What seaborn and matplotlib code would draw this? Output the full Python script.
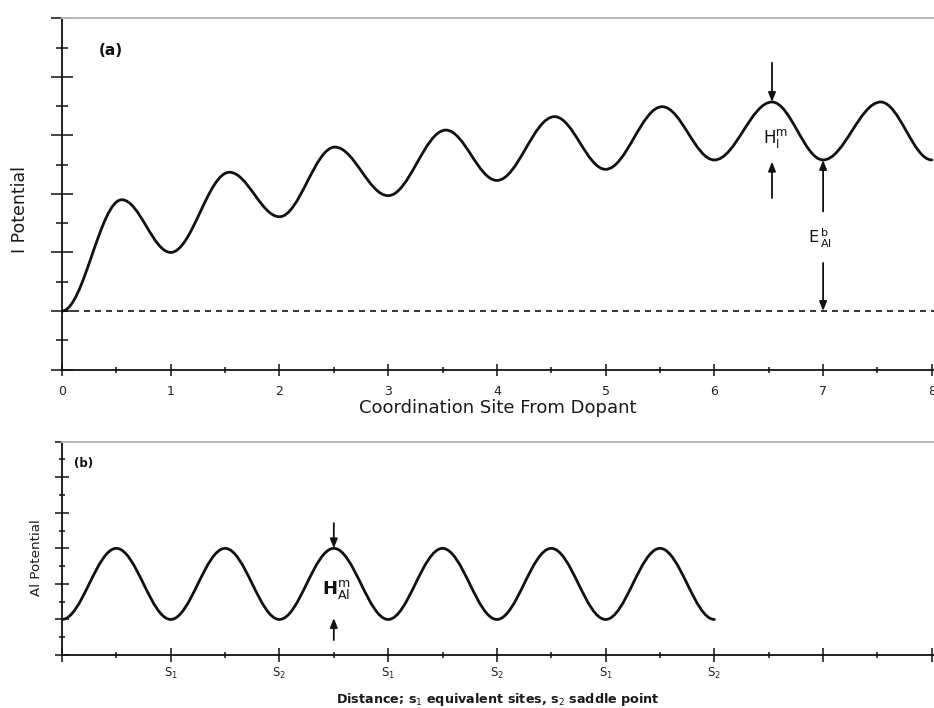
import matplotlib
matplotlib.use("Agg")
import matplotlib.pyplot as plt
from matplotlib.path import Path
from matplotlib.patches import PathPatch
from matplotlib.ticker import MultipleLocator, FixedLocator, NullFormatter
import seaborn as sns

# ---------------- data ----------------
# (a) interstitial potential: turning points along the chain of coordination sites
site_extrema_x = [0.0, 0.55, 1.0, 1.54, 2.0, 2.51, 3.0, 3.53, 4.0, 4.53,
                  5.0, 5.52, 6.0, 6.53, 7.0, 7.53, 8.0]
site_extrema_y = [0.0, 1.90, 1.00, 2.37, 1.61, 2.80, 1.97, 3.09, 2.23, 3.32,
                  2.42, 3.49, 2.58, 3.57, 2.58, 3.57, 2.58]
baseline_a = 0.0
site_ticks = [0, 1, 2, 3, 4, 5, 6, 7, 8]
site_tick_labels = ["0", "1", "2", "3", "4", "5", "6", "7", "8"]

# (b) Al potential: alternating equivalent sites and saddle points
dist_extrema_x = [0.0, 0.5, 1.0, 1.5, 2.0, 2.5, 3.0, 3.5, 4.0, 4.5, 5.0, 5.5, 6.0]
dist_extrema_y = [1.0, 3.0, 1.0, 3.0, 1.0, 3.0, 1.0, 3.0, 1.0, 3.0, 1.0, 3.0, 1.0]
dist_ticks = [0, 1, 2, 3, 4, 5, 6, 7, 8]
dist_tick_labels = ["", r"$\mathregular{S_1}$", r"$\mathregular{S_2}$",
                    r"$\mathregular{S_1}$", r"$\mathregular{S_2}$",
                    r"$\mathregular{S_1}$", r"$\mathregular{S_2}$", "", ""]

# ---------------- style ----------------
sns.set_theme(style="ticks")
plt.rcParams["font.family"] = ["DejaVu Sans"]
plt.rcParams["mathtext.fontset"] = "dejavusans"
INK = "#111111"


def smooth_path(xs, ys, k=0.36):
    """Bezier path through turning points with flat tangents at each one."""
    verts = [(xs[0], ys[0])]
    codes = [Path.MOVETO]
    for x0, y0, x1, y1 in zip(xs[:-1], ys[:-1], xs[1:], ys[1:]):
        dx = x1 - x0
        verts += [(x0 + k * dx, y0), (x1 - k * dx, y1), (x1, y1)]
        codes += [Path.CURVE4] * 3
    return Path(verts, codes)


def arrow(ax, x, y_from, y_to):
    ax.annotate("", xy=(x, y_to), xytext=(x, y_from),
                arrowprops=dict(arrowstyle="-|>,head_length=0.55,head_width=0.22",
                                mutation_scale=10, lw=1.3, color=INK,
                                shrinkA=0, shrinkB=0))


def style_axes(ax, xmaj_len, xmin_len, ymaj_len, ymin_len):
    ax.spines["right"].set_visible(False)
    ax.spines["top"].set_color("#b8b8b8")
    ax.spines["top"].set_linewidth(1.4)
    for s in ("left", "bottom"):
        ax.spines[s].set_color(INK)
        ax.spines[s].set_linewidth(1.3)
    ax.yaxis.set_major_formatter(NullFormatter())
    ax.tick_params(axis="x", which="major", direction="inout", length=xmaj_len,
                   width=1.1, color=INK)
    ax.tick_params(axis="x", which="minor", direction="inout", length=xmin_len,
                   width=1.1, color=INK)
    ax.tick_params(axis="y", which="major", direction="inout", length=ymaj_len,
                   width=1.1, color=INK)
    ax.tick_params(axis="y", which="minor", direction="inout", length=ymin_len,
                   width=1.1, color=INK)
    ax.grid(False)


W, H = 934, 708
fig = plt.figure(figsize=(W / 100, H / 100), dpi=100)

# ---------------- panel (a) ----------------
ax_a = fig.add_axes([62 / W, 1 - 369.5 / H, 872 / W, 351.2 / H])
ax_a.set_xlim(0, 8.02)
ax_a.set_ylim(-1, 5)
ax_a.add_patch(PathPatch(smooth_path(site_extrema_x, site_extrema_y), fill=False,
                         lw=2.0, ec=INK, capstyle="round", joinstyle="round"))
ax_a.axhline(baseline_a, color=INK, lw=1.2, dashes=(3.6, 3.0))

ax_a.xaxis.set_major_locator(FixedLocator(site_ticks))
ax_a.set_xticklabels(site_tick_labels)
ax_a.xaxis.set_minor_locator(MultipleLocator(0.5))
ax_a.yaxis.set_major_locator(MultipleLocator(1))
ax_a.yaxis.set_minor_locator(MultipleLocator(0.5))
style_axes(ax_a, 8, 5, 15.5, 8.4)
ax_a.tick_params(axis="x", labelsize=9, pad=7, labelcolor="#222222")

ax_a.set_xlabel("Coordination Site From Dopant", fontsize=13, color="#1a1a1a")
ax_a.xaxis.label.set_va("baseline")
ax_a.xaxis.set_label_coords(0.5, -0.123)
ax_a.set_ylabel("I Potential", fontsize=12.5, color="#1a1a1a")
ax_a.yaxis.label.set_va("center")
ax_a.yaxis.set_label_coords(-0.0476, 0.457)
ax_a.text(0.0562, 0.907, "(a)", transform=ax_a.transAxes, fontsize=11,
          fontweight="bold", ha="center", va="center", color=INK)

# migration barrier on the plateau
peak_x, peak_y = site_extrema_x[13], site_extrema_y[13]
arrow(ax_a, peak_x, 4.24, peak_y)
arrow(ax_a, peak_x, 1.93, 2.55)
ax_a.text(6.446, 2.867, r"$\mathregular{H^{m}_{I}}$", fontsize=12,
          ha="left", va="baseline", color=INK)

# binding energy relative to the isolated level
val_x, val_y = site_extrema_x[14], site_extrema_y[14]
arrow(ax_a, val_x, 1.70, val_y)
arrow(ax_a, val_x, 0.82, baseline_a)
ax_a.text(6.863, 1.157, r"$\mathregular{E^{\,b}_{\,Al}}$", fontsize=11.5,
          ha="left", va="baseline", color=INK)

# ---------------- panel (b) ----------------
ax_b = fig.add_axes([62 / W, 1 - 655 / H, 872 / W, 213.3 / H])
ax_b.set_xlim(0, 8.02)
ax_b.set_ylim(0, 6)
ax_b.add_patch(PathPatch(smooth_path(dist_extrema_x, dist_extrema_y), fill=False,
                         lw=2.0, ec=INK, capstyle="round", joinstyle="round"))

ax_b.xaxis.set_major_locator(FixedLocator(dist_ticks))
ax_b.set_xticklabels(dist_tick_labels)
ax_b.xaxis.set_minor_locator(MultipleLocator(0.5))
ax_b.yaxis.set_major_locator(MultipleLocator(1))
ax_b.yaxis.set_minor_locator(MultipleLocator(0.5))
style_axes(ax_b, 10, 5, 9.4, 5)
ax_b.tick_params(axis="x", labelsize=8.5, pad=2.5, labelcolor="#222222")

ax_b.set_xlabel(r"Distance; s$_1$ equivalent sites, s$_2$ saddle point",
                fontsize=9.2, fontweight="bold", color="#1a1a1a")
ax_b.xaxis.label.set_va("baseline")
ax_b.xaxis.set_label_coords(0.5, -0.2236)
ax_b.set_ylabel("Al Potential", fontsize=9.7, color="#1a1a1a")
ax_b.yaxis.label.set_va("center")
ax_b.yaxis.set_label_coords(-0.0287, 0.455)
ax_b.text(0.0252, 0.900, "(b)", transform=ax_b.transAxes, fontsize=8.5,
          fontweight="bold", ha="center", va="center", color=INK)

bx, by = dist_extrema_x[5], dist_extrema_y[5]
arrow(ax_b, bx, 3.71, by)
arrow(ax_b, bx, 0.42, 1.04)
ax_b.text(2.389, 1.688, r"$\mathbf{H}^{\mathregular{m}}_{\mathregular{Al}}$",
          fontsize=13, ha="left", va="baseline", color=INK)

fig.savefig("out.png", dpi=100)
